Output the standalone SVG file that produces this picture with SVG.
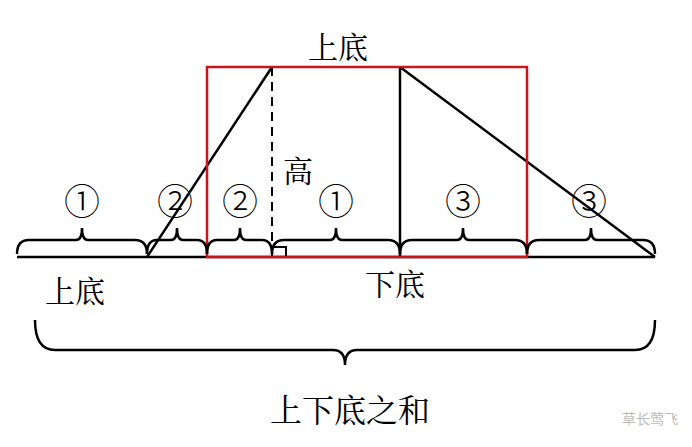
<svg xmlns="http://www.w3.org/2000/svg" width="692" height="447" viewBox="0 0 692 447">
<style>
.t{font-family:"Liberation Serif","Noto Serif CJK SC","Noto Sans CJK SC",serif;fill:#000}
.c{font-family:"Noto Sans CJK SC",serif;fill:#000;font-size:36px;font-weight:300;text-anchor:middle}
.b{fill:none;stroke:#000;stroke-width:2.5}
.l{fill:none;stroke:#000;stroke-width:2.5}
</style>
<rect width="692" height="447" fill="#fff"/>
<g id="base"><line class="l" x1="17" y1="257" x2="655" y2="257"/></g>
<g id="connectors">
<line class="l" x1="147" y1="257" x2="272" y2="67"/>
<line class="l" x1="400" y1="67" x2="655" y2="257"/>
<line class="l" x1="400" y1="67" x2="400" y2="257"/>
<line x1="272" y1="67" x2="272" y2="257" stroke="#000" stroke-width="2" stroke-dasharray="9,6"/>
<polyline fill="none" stroke="#000" stroke-width="2" points="273,247 286,247 286,257"/>
</g>
<g id="rect"><rect x="207" y="67" width="320" height="190" fill="none" stroke="#c8161d" stroke-width="2.5"/></g>
<g id="braces">
<path class="b" d="M17,254 Q17,240 29,240 L76,240 Q82,240 82,228 Q82,240 88,240 L135,240 Q147,240 147,254"/>
<path class="b" d="M147,254 Q147,240 157,240 L171,240 Q177,240 177,228 Q177,240 183,240 L197,240 Q207,240 207,254"/>
<path class="b" d="M207,254 Q207,240 217,240 L234,240 Q240,240 240,228 Q240,240 246,240 L262,240 Q272,240 272,254"/>
<path class="b" d="M272,254 Q272,240 284,240 L330,240 Q336,240 336,228 Q336,240 342,240 L388,240 Q400,240 400,254"/>
<path class="b" d="M400,254 Q400,240 412,240 L457,240 Q463,240 463,228 Q463,240 469,240 L515,240 Q527,240 527,254"/>
<path class="b" d="M527,254 Q527,240 539,240 L585,240 Q591,240 591,228 Q591,240 597,240 L643,240 Q655,240 655,254"/>
<path class="b" d="M35,320 Q35,350 55,350 L333,350 Q345,350 345,365 Q345,350 357,350 L635,350 Q655,350 655,320"/>
</g>
<g id="labels">
<text class="c" x="82" y="215">①</text>
<text class="c" x="175" y="215">②</text>
<text class="c" x="240" y="215">②</text>
<text class="c" x="336" y="215">①</text>
<text class="c" x="463" y="215">③</text>
<text class="c" x="589" y="215">③</text>
<text class="t" x="338" y="58" font-size="30" text-anchor="middle">上底</text>
<text class="t" x="298" y="182" font-size="30" text-anchor="middle">高</text>
<text class="t" x="75" y="302" font-size="30" text-anchor="middle">上底</text>
<text class="t" x="395" y="295" font-size="30" text-anchor="middle">下底</text>
<text class="t" x="350" y="422" font-size="32" text-anchor="middle">上下底之和</text>
<text x="650" y="424" font-size="14" fill="#bbb" font-family="Noto Sans CJK SC,sans-serif" text-anchor="middle">草长莺飞</text>
</g>
</svg>
